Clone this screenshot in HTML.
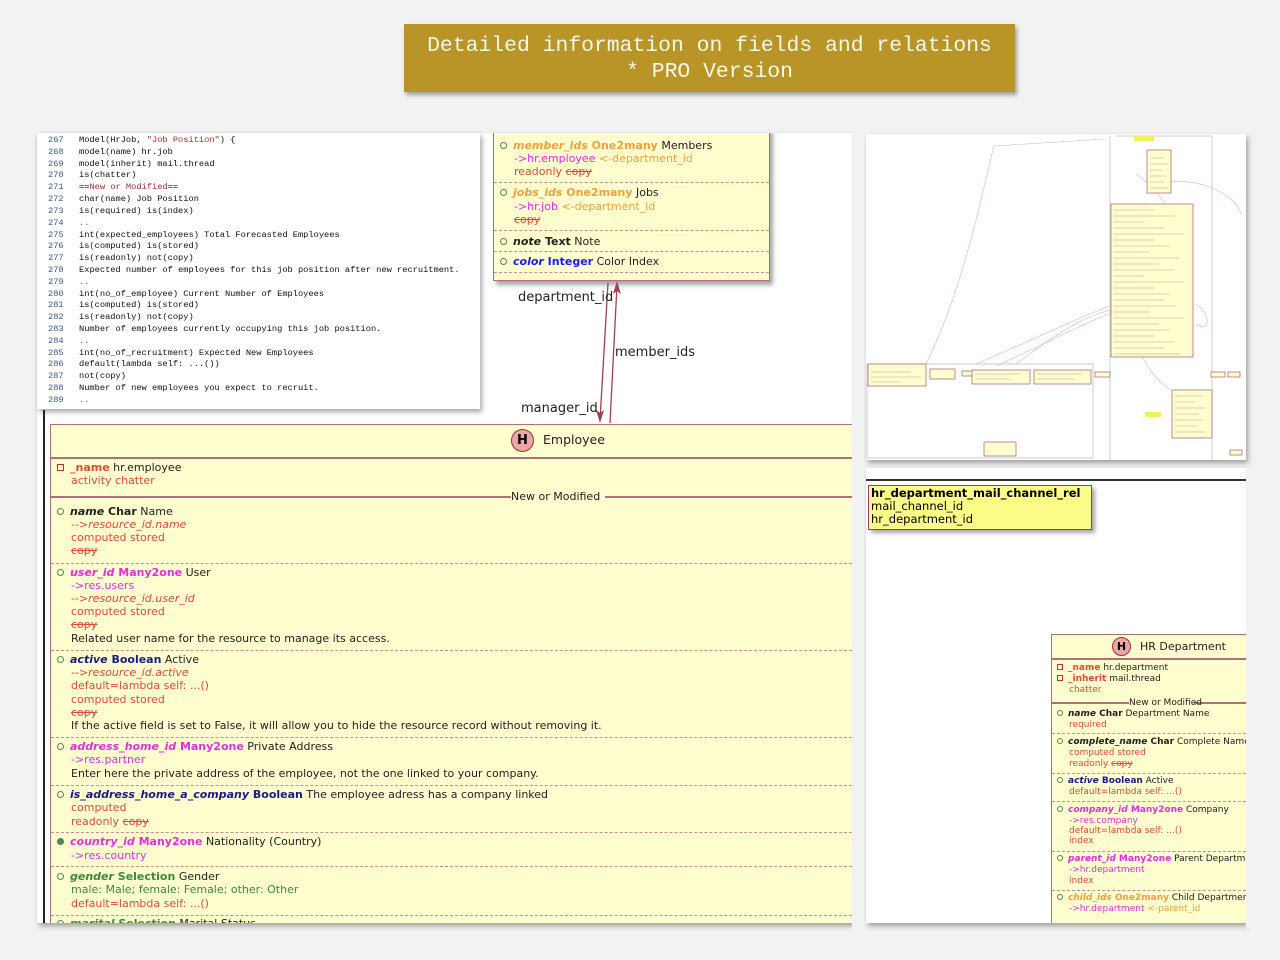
<!DOCTYPE html>
<html><head><meta charset="utf-8">
<style>
*{margin:0;padding:0;box-sizing:border-box}
body{width:1280px;height:960px;background:#f2f2f2;position:relative;overflow:hidden;font-family:"DejaVu Sans","Liberation Sans",sans-serif}
.a{position:absolute;white-space:nowrap}
.panel{position:absolute;background:#fff;box-shadow:2px 3px 5px rgba(0,0,0,.35);overflow:hidden}
.t{position:absolute;white-space:nowrap;font-size:11px;line-height:13px;color:#222}
.s{font-size:9px;line-height:11px}
.ci{display:inline-block;width:7px;height:7px;border:1px solid #4a8a5a;border-radius:50%;margin-right:6px;vertical-align:0}
.sq{display:inline-block;width:7px;height:7px;border:1px solid #c03030;margin-right:6px;vertical-align:0}
.s .ci,.s .sq{width:6px;height:6px;margin-right:5px}
.r{color:#e04a3a}.m{color:#e030e0}.o{color:#f0a040}.nb{color:#1a1a8a}.bl{color:#1a1aff}.g{color:#3a8a3a}
.st{text-decoration:line-through}
b{font-weight:bold}
.dash{position:absolute;height:0;border-top:1px dashed #c89090}
.code{position:absolute;font-family:"Liberation Mono",monospace;font-size:8.7px;line-height:11.82px;white-space:pre;color:#111}
</style></head><body>

<div class="a" style="left:404px;top:24px;width:611px;height:68px;background:#b99426;box-shadow:2px 3px 4px rgba(0,0,0,.35);color:#fff8e8;font-family:'Liberation Mono',monospace;font-size:21.4px;line-height:26px;text-align:center;padding-top:9px">Detailed information on fields and relations<br>* PRO Version</div>

<!-- main panel -->
<div class="panel" style="left:37px;top:133px;width:815px;height:790px">
  <div class="a" style="left:6px;top:277px;width:2px;height:520px;background:#222"></div>
  <div class="a" style="left:13px;top:291px;width:820px;height:510px;background:#fefece;border:1.5px solid #b0707a"></div>
  <div class="a" style="left:13px;top:324px;width:820px;height:2px;background:#b0707a"></div>
  <div class="a" style="left:13px;top:363px;width:462px;height:2px;background:#b0707a"></div>
  <div class="a" style="left:568px;top:363px;width:260px;height:2px;background:#b0707a"></div>
  <div class="a" style="left:456px;top:-5px;width:277px;height:153px;background:#fefece;border:1.5px solid #b0707a;box-shadow:3px 4px 4px rgba(0,0,0,.35)"></div>
</div>

<div class="a" style="left:511px;top:429px;width:23px;height:23px;border-radius:50%;background:#e8a8a8;border:1px solid #a03030;text-align:center;font-weight:bold;font-size:13px;line-height:21px;color:#000">H</div>
<div class="t" style="left:543px;top:432px;font-size:12.5px;line-height:15px">Employee</div>
<div class="t" style="left:57px;top:461px"><span class="sq"></span><b class="r">_name</b> hr.employee</div>
<div class="t r" style="left:71px;top:474px">activity chatter</div>
<div class="t" style="left:511px;top:490px;background:#fefece">New or Modified</div>

<div class="t" style="left:57px;top:505px"><span class="ci"></span><b><i>name</i> Char</b> Name</div>
<div class="t r" style="left:71px;top:518px"><i>--&gt;resource_id.name</i></div>
<div class="t r" style="left:71px;top:531px">computed stored</div>
<div class="t r st" style="left:71px;top:544px">copy</div>
<div class="dash" style="left:51px;top:563px;width:801px"></div>

<div class="t" style="left:57px;top:566px"><span class="ci"></span><b class="m"><i>user_id</i> Many2one</b> User</div>
<div class="t m" style="left:71px;top:579px">-&gt;res.users</div>
<div class="t r" style="left:71px;top:592px"><i>--&gt;resource_id.user_id</i></div>
<div class="t r" style="left:71px;top:605px">computed stored</div>
<div class="t r st" style="left:71px;top:618px">copy</div>
<div class="t" style="left:71px;top:632px">Related user name for the resource to manage its access.</div>
<div class="dash" style="left:51px;top:650px;width:801px"></div>

<div class="t" style="left:57px;top:653px"><span class="ci"></span><b class="nb"><i>active</i> Boolean</b> Active</div>
<div class="t r" style="left:71px;top:666px"><i>--&gt;resource_id.active</i></div>
<div class="t r" style="left:71px;top:679px">default=lambda self: ...()</div>
<div class="t r" style="left:71px;top:693px">computed stored</div>
<div class="t r st" style="left:71px;top:706px">copy</div>
<div class="t" style="left:71px;top:719px">If the active field is set to False, it will allow you to hide the resource record without removing it.</div>
<div class="dash" style="left:51px;top:737px;width:801px"></div>

<div class="t" style="left:57px;top:740px"><span class="ci"></span><b class="m"><i>address_home_id</i> Many2one</b> Private Address</div>
<div class="t m" style="left:71px;top:753px">-&gt;res.partner</div>
<div class="t" style="left:71px;top:767px">Enter here the private address of the employee, not the one linked to your company.</div>
<div class="dash" style="left:51px;top:785px;width:801px"></div>

<div class="t" style="left:57px;top:788px"><span class="ci"></span><b class="nb"><i>is_address_home_a_company</i> Boolean</b> The employee adress has a company linked</div>
<div class="t r" style="left:71px;top:801px">computed</div>
<div class="t r" style="left:71px;top:815px">readonly <span class="st">copy</span></div>
<div class="dash" style="left:51px;top:832px;width:801px"></div>

<div class="t" style="left:57px;top:835px"><span class="ci" style="background:#4a8a5a"></span><b class="m"><i>country_id</i> Many2one</b> Nationality (Country)</div>
<div class="t m" style="left:71px;top:849px">-&gt;res.country</div>
<div class="dash" style="left:51px;top:866px;width:801px"></div>

<div class="t" style="left:57px;top:870px"><span class="ci"></span><b class="g"><i>gender</i> Selection</b> Gender</div>
<div class="t g" style="left:71px;top:883px">male: Male; female: Female; other: Other</div>
<div class="t r" style="left:71px;top:897px">default=lambda self: ...()</div>
<div class="dash" style="left:51px;top:915px;width:801px"></div>
<div class="a" style="left:57px;top:917px;width:795px;height:6px;overflow:hidden"><div class="t" style="top:0;left:0"><span class="ci"></span><b class="g"><i>marital</i> Selection</b> Marital Status</div></div>

<div class="t" style="left:500px;top:139px"><span class="ci"></span><b class="o"><i>member_ids</i> One2many</b> Members</div>
<div class="t" style="left:514px;top:152px"><span class="m">-&gt;hr.employee</span> <span class="o">&lt;-department_id</span></div>
<div class="t r" style="left:514px;top:165px">readonly <span class="st">copy</span></div>
<div class="dash" style="left:494px;top:182px;width:275px"></div>
<div class="t" style="left:500px;top:186px"><span class="ci"></span><b class="o"><i>jobs_ids</i> One2many</b> Jobs</div>
<div class="t" style="left:514px;top:200px"><span class="m">-&gt;hr.job</span> <span class="o">&lt;-department_id</span></div>
<div class="t r st" style="left:514px;top:213px">copy</div>
<div class="dash" style="left:494px;top:230px;width:275px"></div>
<div class="t" style="left:500px;top:235px"><span class="ci"></span><b><i>note</i> Text</b> Note</div>
<div class="dash" style="left:494px;top:251px;width:275px"></div>
<div class="t" style="left:500px;top:255px"><span class="ci"></span><b class="bl"><i>color</i> Integer</b> Color Index</div>
<div class="dash" style="left:494px;top:272px;width:275px"></div>

<svg class="a" style="left:0;top:0" width="1280" height="960">
<g stroke="#a04050" stroke-width="1.3" fill="none">
<line x1="608" y1="283" x2="600" y2="420"/>
<line x1="610" y1="423" x2="617" y2="285"/>
<line x1="992" y1="532" x2="1050" y2="634" stroke-dasharray="4,3"/>
</g>
<polygon points="600,423 596,410 600,413 604,410" fill="#a04050"/>
<polygon points="617,281 613,294 617,291 621,294" fill="#a04050"/>
</svg>
<div class="t" style="left:518px;top:290px;font-size:13px;line-height:15px">department_id</div>
<div class="t" style="left:615px;top:345px;font-size:13px;line-height:15px">member_ids</div>
<div class="t" style="left:521px;top:401px;font-size:13px;line-height:15px">manager_id</div>

<div class="panel" style="left:37px;top:133px;width:443px;height:276px">
<div class="code" style="left:11px;top:2px;color:#3a5a8a">267
268
269
270
271
272
273
274
275
276
277
278
279
280
281
282
283
284
285
286
287
288
289</div>
<div class="code" style="left:42px;top:2px">Model(HrJob, <span style="color:#a03030">"Job Position"</span>) {
model(name) hr.job
model(inherit) mail.thread
is(chatter)
==<span style="color:#a03030">New or Modified</span>==
char(name) Job Position
is(required) is(index)
<span style="color:#3a5aaa">..</span>
int(expected_employees) Total Forecasted Employees
is(computed) is(stored)
is(readonly) not(copy)
Expected number of employees for this job position after new recruitment.
<span style="color:#3a5aaa">..</span>
int(no_of_employee) Current Number of Employees
is(computed) is(stored)
is(readonly) not(copy)
Number of employees currently occupying this job position.
<span style="color:#3a5aaa">..</span>
int(no_of_recruitment) Expected New Employees
default(lambda self: ...())
not(copy)
Number of new employees you expect to recruit.
<span style="color:#3a5aaa">..</span></div>
</div>

<div class="panel" style="left:866px;top:134px;width:380px;height:326px">
<svg width="380" height="326">
<g fill="none" stroke="#ccc" stroke-width="1">
<rect x="1" y="230" width="226" height="94"/>
<line x1="244" y1="2" x2="244" y2="326"/>
<line x1="346" y1="2" x2="346" y2="326"/>
<line x1="250" y1="2" x2="346" y2="2"/>
</g>
<g fill="none" stroke="#e0b0b8" stroke-width=".6">
<path d="M60,230 C100,150 120,40 128,12 L240,5"/>
<path d="M110,230 C180,200 220,180 250,170"/>
<path d="M150,230 C190,200 220,180 250,175"/>
<path d="M130,232 C190,205 225,185 250,178"/>
<path d="M330,170 C345,180 345,200 330,190"/>
<path d="M290,50 C330,40 370,60 375,80"/>
<path d="M270,40 C300,60 320,100 320,140"/>
<path d="M275,220 C285,240 295,250 305,256"/>
</g>
<g fill="#fefece" stroke="#b0707a" stroke-width=".8">
<rect x="281" y="16" width="24" height="43"/>
<rect x="245" y="70" width="82" height="153"/>
<rect x="2" y="230" width="58" height="22"/>
<rect x="64" y="235" width="25" height="10"/>
<rect x="96" y="237" width="12" height="5"/>
<rect x="106" y="236" width="58" height="14"/>
<rect x="168" y="236" width="57" height="14"/>
<rect x="229" y="238" width="15" height="5"/>
<rect x="306" y="256" width="40" height="48"/>
<rect x="118" y="308" width="32" height="14"/>
<rect x="345" y="238" width="14" height="5"/>
<rect x="362" y="238" width="12" height="5"/>
<rect x="364" y="316" width="12" height="5"/>
</g>
<g fill="#f0f060"><rect x="268" y="2" width="20" height="5"/><rect x="279" y="278" width="16" height="5"/></g>
<g stroke="#c8a0a0" stroke-width=".5">
<path d="M248,76h40M248,82h60M248,88h30M248,94h50M248,100h70M248,106h40M248,112h55M248,118h35M248,124h65M248,130h45M248,136h60M248,142h30M248,148h70M248,154h40M248,160h55M248,166h50M248,172h62M248,178h35M248,184h70M248,190h45M248,196h55M248,202h40M248,208h60M248,214h50M248,220h66"/>
<path d="M284,24h14M284,30h18M284,36h12M284,42h16M284,48h14M284,54h18"/>
<path d="M309,262h28M309,268h20M309,274h30M309,280h24M309,286h28M309,292h22M309,298h30"/>
<path d="M5,238h40M5,243h50M5,248h30M109,240h45M109,245h35M171,240h45M171,245h38"/>
</g>
</svg>
</div>

<div class="panel" style="left:866px;top:468px;width:380px;height:455px">
  <div class="a" style="left:0;top:11px;width:380px;height:2px;background:#333"></div>
  <div class="a" style="left:2px;top:17px;width:224px;height:45px;background:#fbfb88;border:1px solid #a04050;box-shadow:3px 3px 4px rgba(0,0,0,.35)"></div>
  <div class="a" style="left:185px;top:166px;width:200px;height:300px;background:#fefece;border:1.5px solid #b0707a"></div>
  <div class="a" style="left:185px;top:190px;width:200px;height:1.5px;background:#b0707a"></div>
  <div class="a" style="left:185px;top:234px;width:78px;height:2px;background:#b0707a"></div>
  <div class="a" style="left:328px;top:234px;width:60px;height:2px;background:#b0707a"></div>
</div>
<div class="t" style="left:871px;top:487px;font-size:11.5px;line-height:13px;color:#000"><b>hr_department_mail_channel_rel</b></div>
<div class="t" style="left:871px;top:500px;font-size:11.5px;line-height:13px;color:#000">mail_channel_id</div>
<div class="t" style="left:871px;top:513px;font-size:11.5px;line-height:13px;color:#000">hr_department_id</div>

<div class="a" style="left:1112px;top:637px;width:19px;height:19px;border-radius:50%;background:#e8a8a8;border:1px solid #a03030;text-align:center;font-weight:bold;font-size:11px;line-height:17px;color:#000">H</div>
<div class="t" style="left:1140px;top:640px;font-size:11px">HR Department</div>
<div class="t s" style="left:1057px;top:663px"><span class="sq"></span><b class="r">_name</b> hr.department</div>
<div class="t s" style="left:1057px;top:674px"><span class="sq"></span><b class="r">_inherit</b> mail.thread</div>
<div class="t s r" style="left:1069px;top:685px">chatter</div>
<div class="t s" style="left:1129px;top:698px">New or Modified</div>
<div class="t s" style="left:1057px;top:709px"><span class="ci"></span><b><i>name</i> Char</b> Department Name</div>
<div class="t s r" style="left:1069px;top:720px">required</div>
<div class="dash" style="left:1052px;top:733px;width:194px"></div>
<div class="t s" style="left:1057px;top:737px"><span class="ci"></span><b><i>complete_name</i> Char</b> Complete Name</div>
<div class="t s r" style="left:1069px;top:748px">computed stored</div>
<div class="t s r" style="left:1069px;top:759px">readonly <span class="st">copy</span></div>
<div class="dash" style="left:1052px;top:773px;width:194px"></div>
<div class="t s" style="left:1057px;top:776px"><span class="ci"></span><b class="nb"><i>active</i> Boolean</b> Active</div>
<div class="t s r" style="left:1069px;top:787px">default=lambda self: ...()</div>
<div class="dash" style="left:1052px;top:801px;width:194px"></div>
<div class="t s" style="left:1057px;top:805px"><span class="ci"></span><b class="m"><i>company_id</i> Many2one</b> Company</div>
<div class="t s m" style="left:1069px;top:816px">-&gt;res.company</div>
<div class="t s r" style="left:1069px;top:826px">default=lambda self: ...()</div>
<div class="t s r" style="left:1069px;top:836px">index</div>
<div class="dash" style="left:1052px;top:851px;width:194px"></div>
<div class="t s" style="left:1057px;top:854px"><span class="ci"></span><b class="m"><i>parent_id</i> Many2one</b> Parent Department</div>
<div class="t s m" style="left:1069px;top:865px">-&gt;hr.department</div>
<div class="t s r" style="left:1069px;top:876px">index</div>
<div class="dash" style="left:1052px;top:890px;width:194px"></div>
<div class="t s" style="left:1057px;top:893px"><span class="ci"></span><b class="o"><i>child_ids</i> One2many</b> Child Departments</div>
<div class="t s" style="left:1069px;top:904px"><span class="m">-&gt;hr.department</span> <span class="o">&lt;-parent_id</span></div>
<div class="a" style="left:1069px;top:915px;height:8px;overflow:hidden"><div class="t s r st" style="left:0;top:0">copy</div></div>
<div class="a" style="left:1246px;top:468px;width:40px;height:460px;background:#f2f2f2"></div>
<div class="a" style="left:852px;top:133px;width:12px;height:800px;background:#f2f2f2"></div>
</body></html>
